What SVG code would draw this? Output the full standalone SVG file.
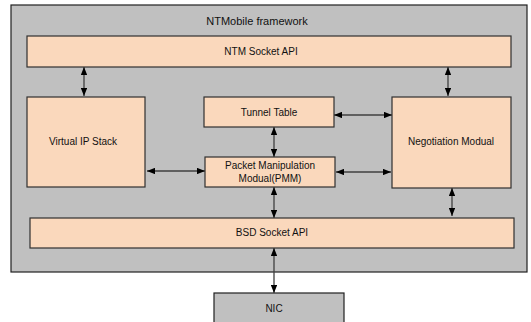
<svg xmlns="http://www.w3.org/2000/svg" width="531" height="322" viewBox="0 0 531 322">
<style>
.frame{fill:#c0c0c0;stroke:#202020;stroke-width:1.2}
.box{fill:#fad8bc;stroke:#303030;stroke-width:1.2}
.nic{fill:#c0c0c0;stroke:#202020;stroke-width:1.2}
text{font-family:"Liberation Sans","Noto Sans CJK JP",sans-serif;font-size:10px;fill:#111;text-anchor:middle}
.conn line{stroke:#404040;stroke-width:1.3;marker-start:url(#ah);marker-end:url(#ah)}
</style>
<defs>
<marker id="ah" viewBox="0 0 10 8" refX="10" refY="4" markerWidth="8" markerHeight="6.4" markerUnits="userSpaceOnUse" orient="auto-start-reverse">
<path d="M0,0 L10,4 L0,8 Z" fill="#000"/>
</marker>
</defs>
<g id="framework">
<rect class="frame" x="11" y="5" width="516" height="267"/>
<text x="257" y="25" style="font-size:11px">NTMobile framework</text>
</g>
<g id="ntm-socket-api">
<rect class="box" x="27" y="36" width="484" height="31"/>
<text x="261" y="55">NTM Socket API</text>
</g>
<g id="virtual-ip-stack">
<rect class="box" x="27" y="97" width="118" height="90"/>
<text x="83" y="145">Virtual IP Stack</text>
</g>
<g id="tunnel-table">
<rect class="box" x="204" y="97" width="130" height="30"/>
<text x="269" y="116">Tunnel Table</text>
</g>
<g id="negotiation-modual">
<rect class="box" x="392" y="97" width="119" height="91"/>
<text x="451" y="145">Negotiation Modual</text>
</g>
<g id="pmm">
<rect class="box" x="205" y="157" width="130" height="30"/>
<text x="270" y="169">Packet Manipulation</text>
<text x="270" y="182">Modual(PMM)</text>
</g>
<g id="bsd-socket-api">
<rect class="box" x="30" y="218" width="484" height="30"/>
<text x="272" y="236">BSD Socket API</text>
</g>
<g id="nic">
<rect class="nic" x="214" y="293" width="130" height="40"/>
<text x="274" y="312">NIC</text>
</g>
<g id="connectors" class="conn">
<line x1="84" y1="67" x2="84" y2="96"/>
<line x1="448" y1="67" x2="448" y2="96"/>
<line x1="334" y1="115" x2="392" y2="115"/>
<line x1="274" y1="127" x2="274" y2="157"/>
<line x1="147" y1="171" x2="205" y2="171"/>
<line x1="336" y1="172" x2="391" y2="172"/>
<line x1="274" y1="187" x2="274" y2="218"/>
<line x1="452" y1="188" x2="452" y2="216"/>
<line x1="274" y1="248" x2="274" y2="293"/>
</g>
</svg>
